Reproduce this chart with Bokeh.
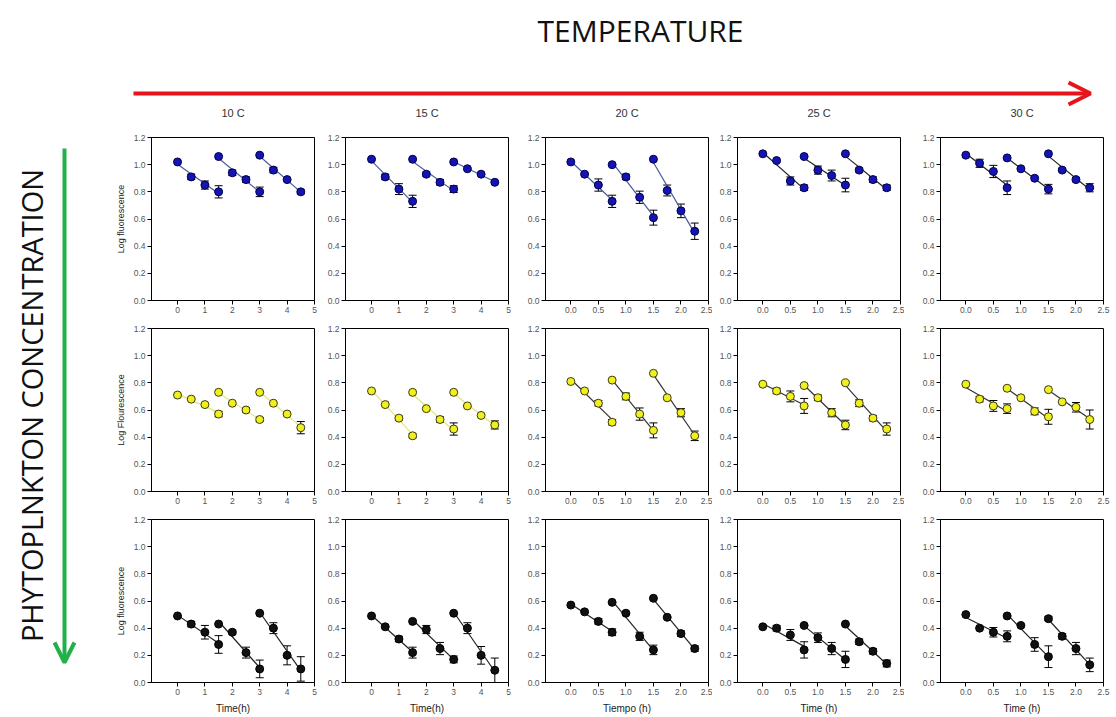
import numpy as np
from bokeh.plotting import figure
from bokeh.layouts import column, row
from bokeh.models import (ColumnDataSource, Whisker, TeeHead, Arrow, OpenHead, Label,
                          FixedTicker, NumeralTickFormatter, Range1d)
from bokeh.embed import file_html
from bokeh.resources import INLINE

temperatures = ["10 C", "15 C", "20 C", "25 C", "30 C"]
time_slow = [0, 0.5, 1.0, 1.5, 1.5, 2.0, 2.5, 3.0, 3.0, 3.5, 4.0, 4.5]
time_fast = [0, 0.25, 0.5, 0.75, 0.75, 1.0, 1.25, 1.5, 1.5, 1.75, 2.0, 2.25]
ticks_slow = [0, 1, 2, 3, 4, 5]
ticks_fast = [0.0, 0.5, 1.0, 1.5, 2.0, 2.5]
ticks_y = [0.0, 0.2, 0.4, 0.6, 0.8, 1.0, 1.2]

# high phytoplankton concentration (blue)
high_10 = [1.02, 0.91, 0.85, 0.80, 1.06, 0.94, 0.89, 0.80, 1.07, 0.96, 0.89, 0.80]
high_10_err = [0, 0.02, 0.03, 0.045, 0, 0.02, 0.02, 0.035, 0, 0.02, 0, 0.015]
high_15 = [1.04, 0.91, 0.82, 0.73, 1.04, 0.93, 0.87, 0.82, 1.02, 0.97, 0.93, 0.87]
high_15_err = [0, 0.02, 0.04, 0.045, 0, 0.015, 0.02, 0.025, 0, 0, 0, 0]
high_20 = [1.02, 0.93, 0.85, 0.73, 1.00, 0.91, 0.76, 0.61, 1.04, 0.81, 0.66, 0.51]
high_20_err = [0, 0, 0.045, 0.045, 0, 0.02, 0.045, 0.055, 0, 0.04, 0.05, 0.06]
high_25 = [1.08, 1.03, 0.88, 0.83, 1.06, 0.96, 0.92, 0.85, 1.08, 0.96, 0.89, 0.83]
high_25_err = [0, 0, 0.03, 0.02, 0, 0.03, 0.04, 0.05, 0, 0.015, 0.02, 0.02]
high_30 = [1.07, 1.01, 0.95, 0.83, 1.05, 0.97, 0.90, 0.82, 1.08, 0.96, 0.89, 0.83]
high_30_err = [0, 0.03, 0.045, 0.05, 0, 0, 0, 0.035, 0, 0.01, 0.015, 0.03]

# medium concentration (yellow)
mid_10 = [0.71, 0.68, 0.64, 0.57, 0.73, 0.65, 0.60, 0.53, 0.73, 0.65, 0.57, 0.47]
mid_10_err = [0, 0, 0, 0.02, 0, 0, 0.015, 0.015, 0, 0, 0, 0.045]
mid_15 = [0.74, 0.64, 0.54, 0.41, 0.73, 0.61, 0.53, 0.46, 0.73, 0.63, 0.56, 0.49]
mid_15_err = [0, 0, 0.015, 0.015, 0, 0, 0.02, 0.045, 0, 0, 0, 0.03]
mid_20 = [0.81, 0.74, 0.65, 0.51, 0.82, 0.70, 0.57, 0.45, 0.87, 0.69, 0.58, 0.41]
mid_20_err = [0, 0, 0.02, 0.02, 0, 0.025, 0.045, 0.055, 0, 0, 0.03, 0.035]
mid_25 = [0.79, 0.74, 0.70, 0.63, 0.78, 0.69, 0.58, 0.49, 0.80, 0.65, 0.54, 0.46]
mid_25_err = [0, 0.02, 0.04, 0.055, 0, 0.02, 0.03, 0.035, 0, 0.025, 0.02, 0.045]
mid_30 = [0.79, 0.68, 0.63, 0.61, 0.76, 0.69, 0.59, 0.55, 0.75, 0.66, 0.62, 0.53]
mid_30_err = [0, 0.02, 0.04, 0.035, 0, 0, 0.025, 0.055, 0, 0, 0.035, 0.07]

# low concentration (black)
low_10 = [0.49, 0.43, 0.37, 0.28, 0.43, 0.37, 0.22, 0.10, 0.51, 0.40, 0.20, 0.10]
low_10_err = [0, 0.02, 0.05, 0.065, 0, 0.015, 0.04, 0.065, 0, 0.04, 0.07, 0.09]
low_15 = [0.49, 0.41, 0.32, 0.22, 0.45, 0.39, 0.25, 0.17, 0.51, 0.40, 0.20, 0.09]
low_15_err = [0, 0, 0.02, 0.04, 0, 0.03, 0.045, 0.025, 0, 0.04, 0.065, 0.09]
low_20 = [0.57, 0.52, 0.45, 0.37, 0.59, 0.51, 0.34, 0.24, 0.62, 0.48, 0.36, 0.25]
low_20_err = [0, 0, 0.02, 0.025, 0, 0, 0.03, 0.035, 0, 0, 0.02, 0.02]
low_25 = [0.41, 0.40, 0.35, 0.24, 0.42, 0.33, 0.25, 0.17, 0.43, 0.30, 0.23, 0.14]
low_25_err = [0, 0.02, 0.04, 0.06, 0, 0.035, 0.045, 0.06, 0, 0.02, 0.02, 0.025]
low_30 = [0.50, 0.40, 0.37, 0.34, 0.49, 0.42, 0.28, 0.19, 0.47, 0.34, 0.25, 0.13]
low_30_err = [0, 0, 0.035, 0.04, 0, 0, 0.05, 0.08, 0.015, 0.02, 0.045, 0.05]

row_values = [
    [(high_10, high_10_err), (high_15, high_15_err), (high_20, high_20_err), (high_25, high_25_err), (high_30, high_30_err)],
    [(mid_10, mid_10_err), (mid_15, mid_15_err), (mid_20, mid_20_err), (mid_25, mid_25_err), (mid_30, mid_30_err)],
    [(low_10, low_10_err), (low_15, low_15_err), (low_20, low_20_err), (low_25, low_25_err), (low_30, low_30_err)],
]
y_labels = ["Log fluorescence", "Log Flourescence", "Log fluorescence"]
x_labels = ["Time(h)", "Time(h)", "Tiempo (h)", "Time (h)", "Time (h)"]

# styling / layout
marker_fill = ["#1414b4", "#f0f020", "#111111"]
marker_line = ["#00004a", "#3a3a10", "#000000"]
fit_color = [["#4a5a9a", "#4a5a9a", "#4a5a9a", "#222222", "#222222"],
             ["#e4e47a", "#e4e47a", "#333333", "#333333", "#333333"],
             ["#222222"] * 5]
HEADER_H = 118
SIDE_W = 105
FRAME = 163
widths = [213, 194, 200, 192, 212]
lefts = [46, 27, 33, 25, 36]
rights = [4, 4, 4, 4, 13]
tops = [19, 12, 12]
bottoms = [16, 16, 35]
heights = [t + FRAME + b for t, b in zip(tops, bottoms)]
FONT = "Liberation Sans"


def make_panel(r, c):
    slow = c < 2
    xs = time_slow if slow else time_fast
    ys, errs = row_values[r][c]
    xr = Range1d(-0.95, 5.0) if slow else Range1d(-0.46, 2.5)
    p = figure(width=widths[c], height=heights[r], x_range=xr, y_range=Range1d(0, 1.2),
               min_border_left=lefts[c], min_border_right=rights[c],
               min_border_top=tops[r], min_border_bottom=bottoms[r],
               toolbar_location=None, output_backend="svg")
    p.background_fill_color = "white"
    p.border_fill_color = "white"
    p.grid.visible = False
    p.outline_line_color = "black"
    p.outline_line_width = 1
    for ax in (p.xaxis[0], p.yaxis[0]):
        ax.axis_line_color = "black"
        ax.major_tick_line_color = "black"
        ax.major_tick_out = 4
        ax.major_tick_in = 0
        ax.minor_tick_line_color = None
        ax.major_label_text_color = "#555555"
        ax.major_label_text_font = FONT
        ax.major_label_text_font_size = "8.5px"
        ax.major_label_standoff = 2
        ax.axis_label_text_font = FONT
        ax.axis_label_text_font_style = "normal"
        ax.axis_label_text_color = "#222222"
    p.xaxis.ticker = FixedTicker(ticks=ticks_slow if slow else ticks_fast)
    p.xaxis.formatter = NumeralTickFormatter(format="0" if slow else "0.0")
    p.yaxis.ticker = FixedTicker(ticks=ticks_y)
    p.yaxis.formatter = NumeralTickFormatter(format="0.0")
    if c == 0:
        p.yaxis.axis_label = y_labels[r]
        p.yaxis.axis_label_text_font_size = "9px"
        p.yaxis.axis_label_standoff = 5
    if r == 2:
        p.xaxis.axis_label = x_labels[c]
        p.xaxis.axis_label_text_font_size = "10px"
        p.xaxis.axis_label_standoff = 5

    # error bars
    ex = [x for x, e in zip(xs, errs) if e > 0]
    ey = [y for y, e in zip(ys, errs) if e > 0]
    ee = [e for e in errs if e > 0]
    src = ColumnDataSource(dict(x=ex, upper=[y + e for y, e in zip(ey, ee)],
                                lower=[y - e for y, e in zip(ey, ee)]))
    w = Whisker(source=src, base="x", upper="upper", lower="lower", line_color="black",
                line_width=1,
                upper_head=TeeHead(size=8, line_color="black", line_width=1),
                lower_head=TeeHead(size=8, line_color="black", line_width=1))
    w.level = "underlay"
    p.add_layout(w)

    # regression lines for each of the three incubation segments
    lx, ly = [], []
    for s in range(3):
        sx = np.array(xs[4 * s:4 * s + 4], dtype=float)
        sy = np.array(ys[4 * s:4 * s + 4], dtype=float)
        k, b = np.polyfit(sx, sy, 1)
        lx.append([sx[0], sx[-1]])
        ly.append([k * sx[0] + b, k * sx[-1] + b])
    p.multi_line(lx, ly, line_color=fit_color[r][c], line_width=1.2)

    p.scatter(xs, ys, marker="circle", size=8, fill_color=marker_fill[r],
              line_color=marker_line[r], line_width=1)
    return p


# header: title, temperature arrow and column headings (page-pixel coordinates)
header = figure(width=1116, height=HEADER_H, x_range=Range1d(0, 1116),
                y_range=Range1d(HEADER_H, 0), min_border=0, toolbar_location=None,
                output_backend="svg", x_axis_location=None, y_axis_location=None)
header.grid.visible = False
header.outline_line_color = None
header.add_layout(Label(x=640, y=30, text="TEMPERATURE", text_align="center",
                        text_baseline="middle", text_font="Open Sans",
                        text_font_size="30px", text_color="#111111"))
header.add_layout(Arrow(x_start=133, y_start=93, x_end=1090, y_end=93,
                        line_color="#e8141c", line_width=4,
                        end=OpenHead(size=22, line_color="#e8141c", line_width=4)))
x0 = SIDE_W
for c in range(5):
    frame_center = x0 + lefts[c] + FRAME / 2
    header.add_layout(Label(x=frame_center, y=HEADER_H - 6, text=temperatures[c],
                            text_align="center", text_baseline="middle", text_font=FONT,
                            text_font_size="11px", text_color="#333333"))
    x0 += widths[c]

# left strip with the concentration arrow
side = figure(width=SIDE_W, height=717 - HEADER_H, x_range=Range1d(0, SIDE_W),
              y_range=Range1d(717, HEADER_H), min_border=0, toolbar_location=None,
              output_backend="svg", x_axis_location=None, y_axis_location=None)
side.grid.visible = False
side.outline_line_color = None
side.add_layout(Label(x=31, y=405, text="PHYTOPLNKTON CONCENTRATION", angle=90,
                      angle_units="deg", text_align="center", text_baseline="middle",
                      text_font="Open Sans", text_font_size="29px", text_color="#111111"))
side.add_layout(Arrow(x_start=64, y_start=148, x_end=64, y_end=662,
                      line_color="#22b04a", line_width=4,
                      end=OpenHead(size=20, line_color="#22b04a", line_width=4)))

grid_rows = [row(*[make_panel(r, c) for c in range(5)], spacing=0) for r in range(3)]
body = row(side, column(*grid_rows, spacing=0), spacing=0)
layout = column(header, body, spacing=0)

open("out.html", "w").write(file_html(layout, INLINE))
